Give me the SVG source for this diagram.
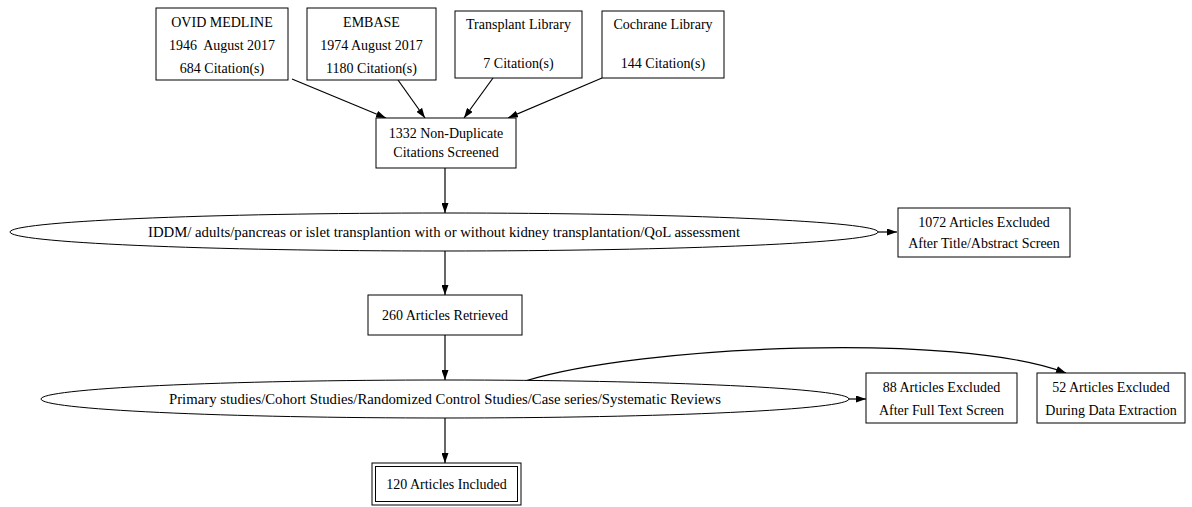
<svg xmlns="http://www.w3.org/2000/svg" width="1192" height="507" viewBox="0 0 1192 507">
<style>
.b{fill:#fff;stroke:#000;stroke-width:1}
.e{fill:none;stroke:#000;stroke-width:1.2}
.t{font-family:"Liberation Serif","Times New Roman",serif;font-size:14px;fill:#000;text-anchor:middle}
</style>
<defs>
<marker id="ah" viewBox="0 0 10 7" refX="10" refY="3.5" markerWidth="10" markerHeight="7" markerUnits="userSpaceOnUse" orient="auto">
<path d="M0,0 L10,3.5 L0,7 z" fill="#000"/>
</marker>
</defs>
<rect width="1192" height="507" fill="#fff"/>
<g id="connectors" class="e" marker-end="url(#ah)">
<line x1="292" y1="79" x2="386" y2="118"/>
<line x1="398" y1="80" x2="425" y2="118"/>
<line x1="493" y1="78" x2="464" y2="118"/>
<line x1="602" y1="78" x2="508" y2="118"/>
<line x1="445" y1="168" x2="445" y2="213"/>
<line x1="878" y1="232" x2="897" y2="232"/>
<line x1="445" y1="251" x2="445" y2="295"/>
<line x1="445" y1="335" x2="445" y2="380"/>
<line x1="848" y1="399" x2="866" y2="399"/>
<path d="M525,381 C640,345 960,332 1066,373"/>
<line x1="445" y1="418" x2="445" y2="463"/>
</g>
<g id="ovid"><rect class="b" x="156" y="8" width="132" height="72"/>
<text class="t" x="222" y="27">OVID MEDLINE</text><text class="t" x="222" y="50">1946&#160; August 2017</text><text class="t" x="222" y="73">684 Citation(s)</text></g>
<g id="embase"><rect class="b" x="307" y="8" width="129" height="72"/>
<text class="t" x="371.5" y="27">EMBASE</text><text class="t" x="371.5" y="50">1974 August 2017</text><text class="t" x="371.5" y="73">1180 Citation(s)</text></g>
<g id="transplant"><rect class="b" x="455" y="11" width="127" height="67"/>
<text class="t" x="518.5" y="29">Transplant Library</text><text class="t" x="518.5" y="68">7 Citation(s)</text></g>
<g id="cochrane"><rect class="b" x="602" y="11" width="122" height="67"/>
<text class="t" x="663" y="29">Cochrane Library</text><text class="t" x="663" y="68">144 Citation(s)</text></g>
<g id="screened"><rect class="b" x="376" y="118" width="140" height="50"/>
<text class="t" x="446" y="138">1332 Non-Duplicate</text><text class="t" x="446" y="157">Citations Screened</text></g>
<g id="criteria1"><ellipse class="b" cx="444" cy="232" rx="434" ry="19"/>
<text class="t" x="444" y="237" textLength="592" lengthAdjust="spacingAndGlyphs">IDDM/ adults/pancreas or islet transplantion with or without kidney transplantation/QoL assessment</text></g>
<g id="excl1"><rect class="b" x="898" y="208" width="172" height="49"/>
<text class="t" x="984" y="227">1072 Articles Excluded</text><text class="t" x="984" y="248">After Title/Abstract Screen</text></g>
<g id="retrieved"><rect class="b" x="368" y="295" width="154" height="40"/>
<text class="t" x="445" y="320">260 Articles Retrieved</text></g>
<g id="criteria2"><ellipse class="b" cx="445" cy="399" rx="404" ry="19"/>
<text class="t" x="445" y="404" textLength="552" lengthAdjust="spacingAndGlyphs">Primary studies/Cohort Studies/Randomized Control Studies/Case series/Systematic Reviews</text></g>
<g id="excl2"><rect class="b" x="866" y="373" width="151" height="50"/>
<text class="t" x="941.5" y="392">88 Articles Excluded</text><text class="t" x="941.5" y="415">After Full Text Screen</text></g>
<g id="excl3"><rect class="b" x="1037" y="373" width="148" height="50"/>
<text class="t" x="1111" y="392">52 Articles Excluded</text><text class="t" x="1111" y="415">During Data Extraction</text></g>
<g id="included"><rect class="b" x="372" y="463" width="149" height="42"/>
<rect class="b" x="375.5" y="466.5" width="142" height="35"/>
<text class="t" x="446.5" y="489">120 Articles Included</text></g>
</svg>
